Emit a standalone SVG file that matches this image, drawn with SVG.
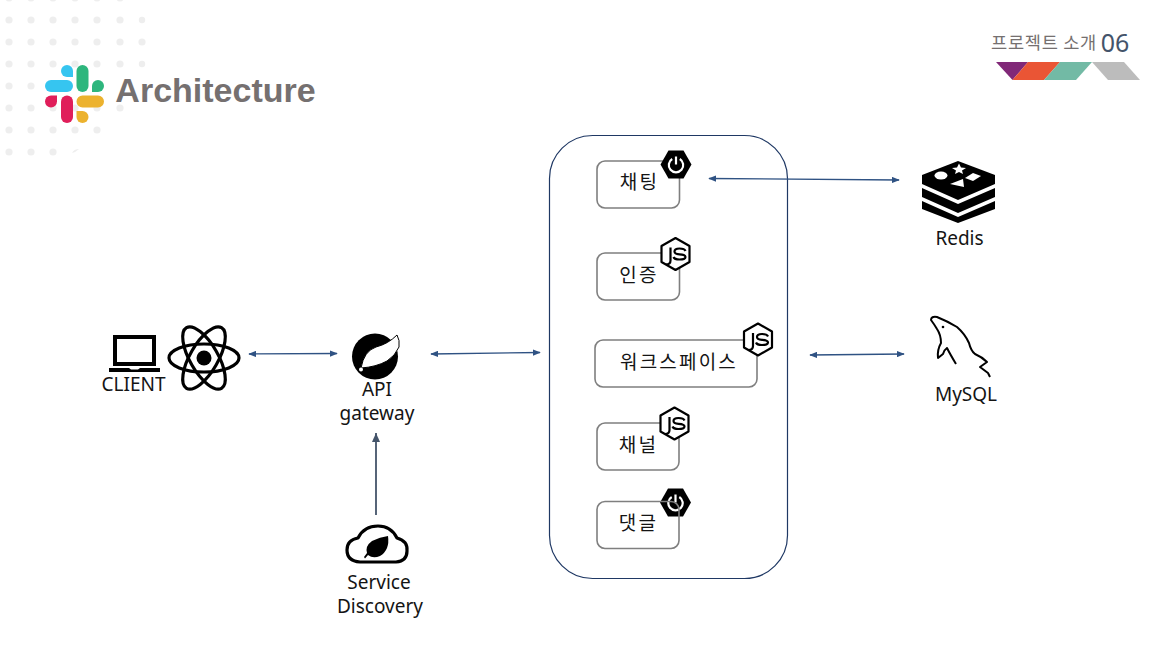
<svg xmlns="http://www.w3.org/2000/svg" width="1165" height="657" viewBox="0 0 1165 657">
<style>
text{font-family:"Noto Sans","Noto Sans CJK KR","Open Sans",sans-serif;fill:#141414;font-size:19px;text-anchor:middle}
.ko{font-family:"Noto Sans CJK KR","Noto Sans",sans-serif;letter-spacing:2.2px}
.box{fill:#fff;stroke:#7f7f7f;stroke-width:1.6}
.dot{fill:#eeeeee}
.conn{stroke:#2f5283;stroke-width:1.3;fill:none}
.bk{fill:#000}
</style>
<defs>
<marker id="ah" viewBox="0 0 10 8" refX="9" refY="4" markerWidth="8" markerHeight="6.4" markerUnits="userSpaceOnUse" orient="auto-start-reverse"><path d="M0 0L10 4L0 8Z" fill="#2f5283"/></marker>
<g id="spring-power">
<path d="M-7.500-14H7.500L15.500 0L7.500 14H-7.500L-15.500 0Z" fill="#000"/>
<path d="M-3.800-5.500A7.200 7.200 0 1 0 3.800-5.500" fill="none" stroke="#fff" stroke-width="2.200"/>
<path d="M0-8V0" stroke="#fff" stroke-width="2.200"/>
</g>
<g id="node-js">
<path d="M0-16L14-8V8L0 16L-14 8V-8Z" fill="#fff" stroke="#000" stroke-width="2.200" stroke-linejoin="round"/>
<path d="M-5-6.500V6.500Q-5 10.500-9.500 10.500" fill="none" stroke="#000" stroke-width="2.200"/>
<path d="M10-3Q9-5.500 4-5.500Q-1-5.500-1-2.500Q-1 0 4 .3Q10 .6 10 3Q10 5.500 4 5.500Q-1 5.500-2 3" fill="none" stroke="#000" stroke-width="2.200"/>
</g>
</defs>
<rect width="1165" height="657" fill="#fff"/>
<g id="bg-dots">
<circle class="dot" cx="9" cy="-2" r="3.600"/><circle class="dot" cx="31" cy="-2" r="3.600"/><circle class="dot" cx="53" cy="-2" r="3.600"/><circle class="dot" cx="75" cy="-2" r="3.600"/><circle class="dot" cx="97" cy="-2" r="3.600"/><circle class="dot" cx="120" cy="-2" r="3.600"/>
<circle class="dot" cx="9" cy="20" r="3.600"/><circle class="dot" cx="31" cy="20" r="3.600"/><circle class="dot" cx="53" cy="20" r="3.600"/><circle class="dot" cx="75" cy="20" r="3.600"/><circle class="dot" cx="97" cy="20" r="3.600"/><circle class="dot" cx="120" cy="20" r="3.600"/><circle class="dot" cx="142" cy="20" r="3.200"/>
<circle class="dot" cx="9" cy="42" r="3.600"/><circle class="dot" cx="31" cy="42" r="3.600"/><circle class="dot" cx="53" cy="42" r="3.600"/><circle class="dot" cx="75" cy="42" r="3.600"/><circle class="dot" cx="97" cy="42" r="3.600"/><circle class="dot" cx="120" cy="42" r="3.600"/><circle class="dot" cx="142" cy="42" r="3.600"/>
<circle class="dot" cx="9" cy="64" r="3.600"/><circle class="dot" cx="31" cy="64" r="3.600"/><circle class="dot" cx="53" cy="64" r="3.600"/><circle class="dot" cx="75" cy="64" r="3.600"/><circle class="dot" cx="97" cy="64" r="3.600"/><circle class="dot" cx="120" cy="64" r="3.600"/><circle class="dot" cx="142" cy="64" r="3.200"/>
<circle class="dot" cx="9" cy="86" r="3.600"/><circle class="dot" cx="31" cy="86" r="3.600"/>
<circle class="dot" cx="9" cy="108" r="3.600"/><circle class="dot" cx="31" cy="108" r="3.600"/><circle class="dot" cx="53" cy="108" r="3.600"/><circle class="dot" cx="75" cy="108" r="3.600"/><circle class="dot" cx="97" cy="108" r="3.600"/><circle class="dot" cx="120" cy="108" r="3.600"/>
<circle class="dot" cx="9" cy="130" r="3.600"/><circle class="dot" cx="31" cy="130" r="3.600"/><circle class="dot" cx="53" cy="130" r="3.600"/><circle class="dot" cx="75" cy="130" r="3.600"/><circle class="dot" cx="97" cy="130" r="3.600"/>
<circle class="dot" cx="9" cy="152" r="3.600"/><circle class="dot" cx="31" cy="152" r="3.600"/><circle class="dot" cx="53" cy="152" r="3.600"/><path class="dot" d="M72 153Q74 149 79 149Q76 152 72 153Z"/>
</g>
<g id="title">
<g id="slack-logo">
<path d="M45 86a6 6 0 0 1 6-6H67a6 6 0 0 1 0 12H51a6 6 0 0 1-6-6Z" fill="#36c5f0"/>
<path d="M67 65a6 6 0 0 1 6 6v6H67a6 6 0 0 1 0-12Z" fill="#36c5f0"/>
<path d="M82.500 65a6 6 0 0 1 6 6V86a6 6 0 0 1-12 0V71a6 6 0 0 1 6-6Z" fill="#2eb67d"/>
<path d="M98 80a6 6 0 0 1 0 12H92V86a6 6 0 0 1 6-6Z" fill="#2eb67d"/>
<path d="M104 101.500a6 6 0 0 1-6 6H82.500a6 6 0 0 1 0-12H98a6 6 0 0 1 6 6Z" fill="#ecb22e"/>
<path d="M82.500 123a6 6 0 0 1-6-6v-6h6a6 6 0 0 1 0 12Z" fill="#ecb22e"/>
<path d="M67 123a6 6 0 0 1-6-6V101.500a6 6 0 0 1 12 0V117a6 6 0 0 1-6 6Z" fill="#e01e5a"/>
<path d="M51 95.500h6v6a6 6 0 0 1-12 0 6 6 0 0 1 6-6Z" fill="#e01e5a"/>
</g>
<text x="215.500" y="102" style="font-family:'Liberation Sans',sans-serif;font-weight:700;font-size:34px;fill:#757070">Architecture</text>
</g>
<g id="header-badge">
<text x="1044" y="49" class="ko" style="font-size:17.600px;fill:#757070;letter-spacing:.7px">프로젝트 소개</text>
<text x="1115" y="52" style="font-size:25px;fill:#44546a">06</text>
<path d="M996 62H1028L1012.500 80Z" fill="#812878"/>
<path d="M1028 62H1060L1044 80H1012.500Z" fill="#ea5535"/>
<path d="M1060 62H1092L1076 80H1044Z" fill="#72baa5"/>
<path d="M1092 62H1124L1140 80H1108Z" fill="#bcbcbc"/>
</g>
<g id="services-frame">
<rect x="549.500" y="135.500" width="238" height="443" rx="43" ry="43" fill="#fff" stroke="#1f3864" stroke-width="1.200"/>
</g>
<g id="connectors">
<path class="conn" d="M249 354L337 353.500" marker-start="url(#ah)" marker-end="url(#ah)"/>
<path class="conn" d="M431 354L540 352.500" marker-start="url(#ah)" marker-end="url(#ah)"/>
<path d="M376 515V433" stroke="#44546a" stroke-width="1.800" fill="none"/>
<path d="M376 433L372 442H380Z" fill="#44546a"/>
<path class="conn" d="M709 178.500L899 180" marker-start="url(#ah)" marker-end="url(#ah)"/>
<path class="conn" d="M810 355L904 354" marker-start="url(#ah)" marker-end="url(#ah)"/>
</g>
<g id="client">
<path class="bk" d="M113 335H156V366H113ZM117 339V362H152V339Z" fill-rule="evenodd"/>
<path class="bk" d="M109 368H129L131 369.500H138L140 368H160V372H109Z"/>
<text x="133.500" y="391">CLIENT</text>
</g>
<g id="react">
<circle cx="204" cy="358" r="7.500" class="bk"/>
<g fill="none" stroke="#000" stroke-width="3.200">
<ellipse cx="204" cy="358" rx="35" ry="14"/>
<ellipse cx="204" cy="358" rx="35" ry="14" transform="rotate(60 204 358)"/>
<ellipse cx="204" cy="358" rx="35" ry="14" transform="rotate(120 204 358)"/>
</g>
</g>
<g id="api-gateway">
<circle cx="375" cy="356.500" r="23" class="bk"/>
<path d="M397 335Q388 344 376 347Q364 351 361 368Q376 367 387 361Q395 356 399 347Q400 340 397 335Z" fill="#fff" stroke="#000" stroke-width="1"/>
<circle cx="361" cy="369.500" r="2" fill="#fff"/>
<text x="377" y="396">API</text>
<text x="377" y="420">gateway</text>
</g>
<g id="service-discovery">
<path d="M360 562Q347 561 347 550Q347 540 358 538Q364 526 378 526Q391 526 397 538Q408 541 407 551Q407 561 396 562Z" fill="#fff" stroke="#000" stroke-width="3.200" stroke-linejoin="round"/>
<path d="M388 536Q390 550 380 556Q373 559 368 555L365 558.500L364 557L367 553Q365 546 372 541Q380 537 388 536Z" class="bk"/>
<text x="379" y="589">Service</text>
<text x="380" y="613">Discovery</text>
</g>
<g id="svc-chat">
<rect class="box" x="597" y="161" width="82.500" height="47" rx="8"/>
<use href="#spring-power" x="676" y="164.500"/>
<text class="ko" x="639.500" y="188.500">채팅</text>
</g>
<g id="svc-auth">
<rect class="box" x="597" y="253" width="82.500" height="47" rx="8"/>
<use href="#node-js" x="675.500" y="254"/>
<text class="ko" x="639" y="282">인증</text>
</g>
<g id="svc-workspace">
<rect class="box" x="595" y="340" width="162" height="47" rx="8"/>
<use href="#node-js" x="758" y="339.500"/>
<text class="ko" x="679" y="369">워크스페이스</text>
</g>
<g id="svc-channel">
<rect class="box" x="597" y="423" width="82" height="47" rx="8"/>
<use href="#node-js" x="674.500" y="423.500"/>
<text class="ko" x="638.500" y="452">채널</text>
</g>
<g id="svc-comment">
<use href="#spring-power" x="675.500" y="502.500"/>
<rect class="box" x="597" y="501.500" width="82" height="47" rx="8" style="fill:none"/>
<text class="ko" x="638.500" y="530">댓글</text>
</g>
<g id="redis">
<path class="bk" d="M958 161L995 175V184L958 200L922 184V175Z"/>
<path class="bk" d="M922 188L958 204L995 188V197L958 213L922 197Z"/>
<path class="bk" d="M922 201L958 217L995 201V209L958 223L922 209Z"/>
<g fill="#fff">
<ellipse cx="941" cy="175.500" rx="6.500" ry="4"/>
<path d="M959 163.500L961 167.500L966 168L962 170.500L963 174L959 172L955 174L956 170.500L952 168L957 167.500Z"/>
<path d="M965 178L973 173L981 176L973 181Z"/>
<path d="M950 184L963 179L964 187Z"/>
</g>
<text x="959.500" y="245">Redis</text>
</g>
<g id="mysql">
<path d="M956 364Q950 354 947 348Q944 350 943 354L938 358Q937 350 941 343Q941 335 937 329Q934 324 931 320Q931 316 937 317Q947 321 957 327Q965 334 969 343Q971 351 975 354Q982 357 987 362L980 367L988 373L990 377" fill="none" stroke="#000" stroke-width="2" stroke-linejoin="round"/>
<circle cx="943" cy="327" r="1.300" class="bk"/>
<text x="966" y="401">MySQL</text>
</g>
</svg>
